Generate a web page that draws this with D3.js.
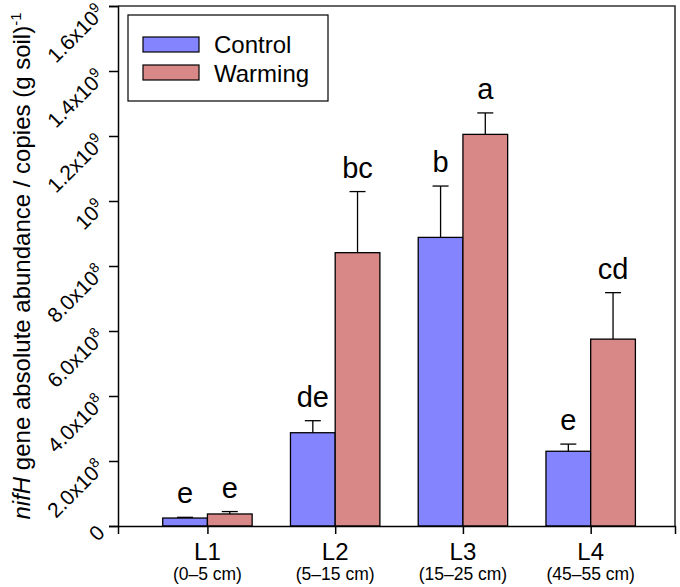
<!DOCTYPE html>
<html>
<head>
<meta charset="utf-8">
<script src="https://cdn.jsdelivr.net/npm/d3@7"></script>
<style>
  body { margin: 0; background: #fff; }
  svg { display: block; font-family: "Liberation Sans", Arial, sans-serif; }
</style>
</head>
<body>
<div id="chart"></div>
<script>
// data
const layers = ["L1", "L2", "L3", "L4"];
const depths = ["(0\u20135 cm)", "(5\u201315 cm)", "(15\u201325 cm)", "(45\u201355 cm)"];
const controlMean = [2.45e7, 2.87e8, 8.88e8, 2.30e8];
const controlErr = [2.2e6, 3.7e7, 1.58e8, 2.2e7];
const controlLetters = ["e", "de", "b", "e"];
const warmingMean = [3.7e7, 8.41e8, 1.205e9, 5.75e8];
const warmingErr = [7.4e6, 1.88e8, 6.6e7, 1.43e8];
const warmingLetters = ["e", "bc", "a", "cd"];
const yTicks = [0, 2e8, 4e8, 6e8, 8e8, 1e9, 1.2e9, 1.4e9, 1.6e9];
const yTickLabels = [["0", ""], ["2.0x10", "8"], ["4.0x10", "8"], ["6.0x10", "8"], ["8.0x10", "8"],
                     ["10", "9"], ["1.2x10", "9"], ["1.4x10", "9"], ["1.6x10", "9"]];
const seriesNames = ["Control", "Warming"];
const seriesColors = ["#8484ff", "#d98888"];

const W = 680, H = 587;
const plot = { left: 118, right: 675, top: 6, bottom: 526 };
const barW = 0.35;

const svg = d3.select("#chart").append("svg")
    .attr("width", W).attr("height", H);

const x = d3.scaleLinear().domain([0.3, 4.66]).range([plot.left, plot.right]);
const y = d3.scaleLinear().domain([0, 1.6e9]).range([plot.bottom, plot.top]);

// frame (top + right)
svg.append("path")
    .attr("d", `M${plot.left},${plot.top}H${plot.right}V${plot.bottom}`)
    .attr("fill", "none").attr("stroke", "#333").attr("stroke-width", 1.6);

// bars
const groups = [
  { mean: controlMean, err: controlErr, letters: controlLetters, color: seriesColors[0], off: -barW },
  { mean: warmingMean, err: warmingErr, letters: warmingLetters, color: seriesColors[1], off: 0 }
];

groups.forEach(s => {
  const g = svg.append("g");
  layers.forEach((l, i) => {
    const x0 = x(i + 1 + s.off), x1 = x(i + 1 + s.off + barW), cx = (x0 + x1) / 2;
    const yt = y(s.mean[i]), ye = y(s.mean[i] + s.err[i]);
    g.append("line").attr("x1", cx).attr("x2", cx).attr("y1", yt).attr("y2", ye)
        .attr("stroke", "#000").attr("stroke-width", 1.3);
    g.append("line").attr("x1", cx - 8).attr("x2", cx + 8).attr("y1", ye).attr("y2", ye)
        .attr("stroke", "#000").attr("stroke-width", 1.3);
    g.append("rect")
        .attr("x", x0).attr("y", yt).attr("width", x1 - x0).attr("height", y(0) - yt)
        .attr("fill", s.color).attr("stroke", "#000").attr("stroke-width", 1.3);
    g.append("text")
        .attr("x", cx).attr("y", ye - 14)
        .attr("text-anchor", "middle").attr("font-size", 29)
        .text(s.letters[i]);
  });
});

// y axis
const yAxis = svg.append("g").attr("transform", `translate(${plot.left},0)`)
    .call(d3.axisLeft(y).tickValues(yTicks).tickSize(9).tickFormat(""));
yAxis.select(".domain").attr("stroke-width", 1.5);
yAxis.selectAll(".tick line").attr("stroke-width", 1.5);

yTicks.forEach((v, i) => {
  const t = svg.append("text")
      .attr("transform", `translate(106,${y(v) + 8}) rotate(-45)`)
      .attr("text-anchor", "end").attr("font-size", 21);
  t.append("tspan").text(yTickLabels[i][0]);
  if (yTickLabels[i][1]) {
    t.append("tspan").attr("dy", -8).attr("font-size", 14).text(yTickLabels[i][1]);
  }
});

// x axis
const xAxis = svg.append("g").attr("transform", `translate(0,${plot.bottom})`)
    .call(d3.axisBottom(x).tickValues([1, 2, 3, 4]).tickSize(8).tickFormat(""));
xAxis.select(".domain").attr("stroke-width", 1.5);
xAxis.selectAll(".tick line").attr("stroke-width", 1.5);

layers.forEach((l, i) => {
  svg.append("text").attr("x", x(i + 1)).attr("y", 560)
      .attr("text-anchor", "middle").attr("font-size", 24).text(l);
  svg.append("text").attr("x", x(i + 1)).attr("y", 580)
      .attr("text-anchor", "middle").attr("font-size", 17.5).text(depths[i]);
});

// y title
const title = svg.append("text")
    .attr("transform", `translate(30,${(plot.top + plot.bottom) / 2}) rotate(-90)`)
    .attr("text-anchor", "middle").attr("font-size", 24);
title.append("tspan").attr("font-style", "italic").text("nifH");
title.append("tspan").text(" gene absolute abundance / copies (g soil)");
title.append("tspan").attr("dy", -9).attr("font-size", 15).text("-1");

// legend
const lg = svg.append("g");
lg.append("rect").attr("x", 128).attr("y", 15).attr("width", 200).attr("height", 86)
    .attr("fill", "#fff").attr("stroke", "#000").attr("stroke-width", 1.2);
seriesNames.forEach((n, i) => {
  lg.append("rect").attr("x", 143).attr("y", 37 + i * 28).attr("width", 56).attr("height", 15)
      .attr("fill", seriesColors[i]).attr("stroke", "#000").attr("stroke-width", 1.2);
  lg.append("text").attr("x", 214).attr("y", 53 + i * 29)
      .attr("font-size", 24).text(n);
});
</script>
</body>
</html>
